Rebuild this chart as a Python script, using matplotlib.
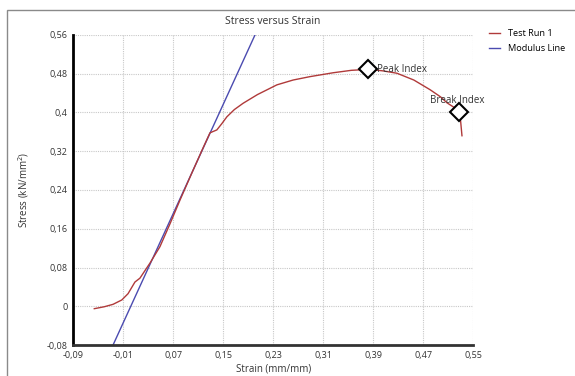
import matplotlib
matplotlib.use("Agg")
import matplotlib.pyplot as plt
from matplotlib.patches import Rectangle
from matplotlib.ticker import FuncFormatter

plt.rcParams['font.family'] = ['Open Sans', 'DejaVu Sans']

# Test run data (strain, stress)
strain = [-0.056, -0.040, -0.026, -0.012, -0.002, 0.009, 0.017, 0.033, 0.049,
          0.065, 0.081, 0.100, 0.118, 0.129, 0.140, 0.148, 0.156, 0.168, 0.182,
          0.205, 0.236, 0.262, 0.289, 0.326, 0.355, 0.382, 0.405, 0.428, 0.455,
          0.481, 0.498, 0.508, 0.520, 0.528, 0.530, 0.532]
stress = [-0.005, -0.001, 0.004, 0.013, 0.026, 0.050, 0.058, 0.089, 0.123,
          0.170, 0.219, 0.275, 0.327, 0.358, 0.364, 0.377, 0.391, 0.406, 0.419,
          0.437, 0.457, 0.467, 0.474, 0.482, 0.487, 0.489, 0.486, 0.481, 0.467,
          0.447, 0.432, 0.420, 0.410, 0.400, 0.380, 0.352]

# Modulus line endpoints
mod_strain = [-0.026, 0.201]
mod_stress = [-0.08, 0.56]

peak = (0.382, 0.489)
brk = (0.528, 0.400)

xticks = [-0.09, -0.01, 0.07, 0.15, 0.23, 0.31, 0.39, 0.47, 0.55]
yticks = [-0.08, 0, 0.08, 0.16, 0.24, 0.32, 0.4, 0.48, 0.56]

fig = plt.figure(figsize=(5.75, 3.76), dpi=100)
ax = fig.add_axes([0.127, 0.0824, 0.696, 0.8246])

fig.patches.append(Rectangle((7/575, -0.1), 1.2, 1 - 10/376 + 0.1,
                             transform=fig.transFigure, fill=False,
                             edgecolor='#8a8a8a', linewidth=1.0))

ax.plot(strain, stress, color='#b03a3a', lw=1.0, label='Test Run 1', zorder=3)
ax.plot(mod_strain, mod_stress, color='#4b4bb0', lw=1.0, label='Modulus Line', zorder=2)

for (px, py) in [peak, brk]:
    ax.plot(px, py, marker='D', ms=9, mfc='white', mec='black', mew=1.5, zorder=5)
ax.text(peak[0] + 0.014, peak[1], 'Peak Index', fontsize=7, va='center', ha='left', color='#333333', zorder=6)
ax.text(brk[0] - 0.004, brk[1] + 0.025, 'Break Index', fontsize=7, va='center', ha='center', color='#333333', zorder=6)

ax.set_xlim(-0.09, 0.55)
ax.set_ylim(-0.08, 0.56)
ax.set_xticks(xticks)
ax.set_yticks(yticks)
fmt = FuncFormatter(lambda v, p: ('%g' % round(v, 2)).replace('.', ','))
ax.xaxis.set_major_formatter(fmt)
ax.yaxis.set_major_formatter(fmt)
ax.tick_params(length=0, labelsize=6.5, labelcolor='#333333', pad=4)
ax.grid(True, color='#c8c8c8', linestyle=(0, (1, 1)), lw=0.8)
ax.set_axisbelow(True)
for s in ['top', 'right']:
    ax.spines[s].set_visible(False)
ax.spines['left'].set_linewidth(2)
ax.spines['left'].set_color('black')
ax.spines['bottom'].set_linewidth(2)
ax.spines['bottom'].set_color('#333333')

ax.set_xlabel('Strain (mm/mm)', fontsize=7, color='#333333', labelpad=3)
ax.set_ylabel('Stress (kN/mm$^2$)', fontsize=7, color='#333333', labelpad=11)
ax.set_title('Stress versus Strain', fontsize=7.5, color='#333333', pad=8)

ax.legend(loc='upper left', bbox_to_anchor=(1.02, 1.045), frameon=False, fontsize=6.6,
          handlelength=1.2, handletextpad=0.8, labelspacing=0.6)

fig.savefig('out.png', dpi=100)
